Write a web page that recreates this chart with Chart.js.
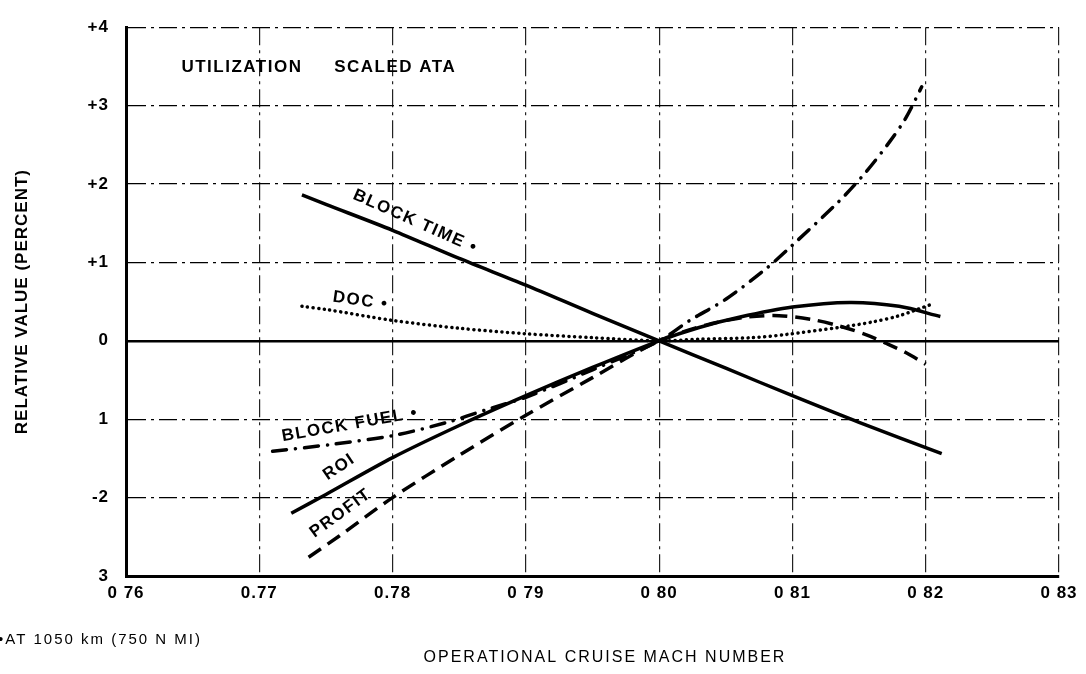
<!DOCTYPE html>
<html>
<head>
<meta charset="utf-8">
<title>Relative value vs operational cruise Mach number</title>
<script src="https://cdn.jsdelivr.net/npm/chart.js@4.4.1/dist/chart.umd.min.js"></script>
<style>
  html, body { margin: 0; padding: 0; background: #fff; }
  #wrap { width: 1086px; height: 674px; position: relative; }
</style>
</head>
<body>
<div id="wrap"><canvas id="machChart"></canvas></div>
<script>
// Tick values and the labels as printed on the figure
const xTickValues = [0.76, 0.77, 0.78, 0.79, 0.80, 0.81, 0.82, 0.83];
const xTickLabels = ['0 76', '0.77', '0.78', '0 79', '0 80', '0 81', '0 82', '0 83'];
const yTickValues = [-3, -2, -1, 0, 1, 2, 3, 4];
const yTickLabels = ['3', '-2', '1', '0', '+1', '+2', '+3', '+4'];

// Curves: Mach number -> relative value (percent)
const blockTimeMach  = [0.7732, 0.775, 0.78, 0.785, 0.79, 0.795, 0.80, 0.805, 0.81, 0.815, 0.8212];
const blockTimeValue = [1.86, 1.74, 1.41, 1.05, 0.71, 0.35, 0, -0.35, -0.70, -1.04, -1.44];

const docMach  = [0.7732, 0.775, 0.78, 0.785, 0.79, 0.795, 0.80, 0.803, 0.807, 0.8095, 0.8135, 0.816, 0.818, 0.8205];
const docValue = [0.44, 0.40, 0.26, 0.16, 0.09, 0.04, 0, 0.02, 0.04, 0.08, 0.17, 0.24, 0.32, 0.47];

const blockFuelMach  = [0.7710, 0.7755, 0.78, 0.7841, 0.787, 0.79, 0.795, 0.80, 0.8023, 0.805, 0.8081, 0.81, 0.8135, 0.8155, 0.8173, 0.8185, 0.8197];
const blockFuelValue = [-1.41, -1.32, -1.21, -1.04, -0.88, -0.72, -0.37, 0, 0.26, 0.53, 0.93, 1.22, 1.78, 2.15, 2.54, 2.84, 3.24];

const roiMach  = [0.7724, 0.775, 0.78, 0.785, 0.79, 0.795, 0.80, 0.803, 0.806, 0.81, 0.8143, 0.818, 0.8211];
const roiValue = [-2.20, -1.96, -1.49, -1.08, -0.70, -0.34, 0, 0.17, 0.30, 0.43, 0.49, 0.44, 0.31];

const profitMach  = [0.7737, 0.776, 0.78, 0.785, 0.79, 0.795, 0.80, 0.8035, 0.8065, 0.809, 0.8115, 0.8135, 0.8155, 0.817, 0.8185, 0.82];
const profitValue = [-2.76, -2.49, -2.00, -1.46, -0.95, -0.47, 0, 0.20, 0.30, 0.32, 0.27, 0.19, 0.08, -0.03, -0.15, -0.30];

// Text written inside the plot, anchored in data units
const plotNotes = [
    { text: 'UTILIZATION', mach: 0.7687, value: 3.49, angle: 0 },
    { text: 'SCALED ATA', mach: 0.7802, value: 3.49, angle: 0 },
    { text: 'BLOCK TIME •', mach: 0.7817, value: 1.52, angle: 24 },
    { text: 'DOC •', mach: 0.7776, value: 0.51, angle: 8 },
    { text: 'BLOCK FUEL •', mach: 0.7768, value: -1.07, angle: -10 },
    { text: 'ROI', mach: 0.7760, value: -1.61, angle: -34 },
    { text: 'PROFIT', mach: 0.7761, value: -2.20, angle: -36 }
];
const footnote = '•AT 1050 km (750 N MI)';
const xTitle = 'OPERATIONAL CRUISE MACH NUMBER';
const yTitle = 'RELATIVE VALUE (PERCENT)';

function toPoints(xs, ys) {
    return xs.map((x, i) => ({ x, y: ys[i] }));
}

function curve(label, xs, ys, dash, cap) {
    return {
        label,
        data: toPoints(xs, ys),
        borderColor: '#000',
        borderWidth: 3.5,
        borderDash: dash,
        borderCapStyle: cap || 'butt',
        pointRadius: 0,
        fill: false,
        tension: 0.3
    };
}

const gridDash = [18, 5, 3, 5];

// Draws the in-plot notes, the footnote and the x title
const figureText = {
    id: 'figureText',
    beforeDraw(chart) {
        chart.ctx.letterSpacing = '1px';
    },
    afterDraw(chart) {
        const { ctx, chartArea } = chart;
        const xs = chart.scales.x;
        const ys = chart.scales.y;
        ctx.save();
        ctx.fillStyle = '#000';
        ctx.textBaseline = 'middle';
        ctx.textAlign = 'center';
        ctx.letterSpacing = '1.5px';
        ctx.font = 'bold 17px "Liberation Sans", Arial, sans-serif';
        plotNotes.forEach(note => {
            ctx.save();
            ctx.translate(xs.getPixelForValue(note.mach), ys.getPixelForValue(note.value));
            ctx.rotate(note.angle * Math.PI / 180);
            ctx.fillText(note.text, 0, 0);
            ctx.restore();
        });

        ctx.letterSpacing = '2px';
        ctx.font = '15px "Liberation Sans", Arial, sans-serif';
        ctx.textAlign = 'left';
        ctx.fillText(footnote, -2, chartArea.bottom + 64);

        ctx.font = '16px "Liberation Sans", Arial, sans-serif';
        ctx.textAlign = 'center';
        ctx.fillText(xTitle, chartArea.left + 479, chartArea.bottom + 82);
        ctx.restore();
    }
};

const ctx = document.getElementById('machChart').getContext('2d');
const machChart = new Chart(ctx, {
    type: 'line',
    data: {
        datasets: [
            curve('BLOCK TIME', blockTimeMach, blockTimeValue, []),
            curve('DOC', docMach, docValue, [0.1, 5.5], 'round'),
            curve('BLOCK FUEL', blockFuelMach, blockFuelValue, [14, 9, 0.1, 9], 'round'),
            curve('ROI', roiMach, roiValue, []),
            curve('PROFIT', profitMach, profitValue, [15, 8])
        ]
    },
    options: {
        responsive: true,
        maintainAspectRatio: false,
        animation: false,
        layout: {
            padding: { top: 15, right: 27, bottom: 0, left: 0 }
        },
        plugins: {
            legend: { display: false },
            tooltip: { enabled: false }
        },
        scales: {
            x: {
                type: 'linear',
                min: 0.76,
                max: 0.83,
                afterBuildTicks: scale => {
                    scale.ticks = xTickValues.map(v => ({ value: v }));
                },
                afterFit: scale => {
                    scale.height = 98;
                },
                ticks: {
                    color: '#000',
                    padding: 7,
                    maxRotation: 0,
                    font: { family: '"Liberation Sans", Arial, sans-serif', size: 17, weight: 'bold' },
                    callback: (value, index) => xTickLabels[index]
                },
                grid: {
                    color: '#222',
                    lineWidth: 1.2,
                    drawTicks: false
                },
                border: {
                    display: true,
                    color: '#000',
                    width: 3,
                    dash: gridDash
                },
                title: { display: false }
            },
            y: {
                type: 'linear',
                min: -3,
                max: 4,
                afterBuildTicks: scale => {
                    scale.ticks = yTickValues.map(v => ({ value: v }));
                },
                afterFit: scale => {
                    scale.width = 126;
                },
                ticks: {
                    color: '#000',
                    padding: 17,
                    font: { family: '"Liberation Sans", Arial, sans-serif', size: 17, weight: 'bold' },
                    callback: (value, index) => yTickLabels[index]
                },
                grid: {
                    color: '#000',
                    lineWidth: c => (c.tick && c.tick.value === 0 ? 2.5 : 1.2),
                    drawTicks: false
                },
                border: {
                    display: true,
                    color: '#000',
                    width: 3,
                    dash: c => (c.tick && c.tick.value === 0 ? [] : gridDash)
                },
                title: {
                    display: true,
                    text: yTitle,
                    color: '#000',
                    padding: { top: 12, bottom: 0 },
                    font: { family: '"Liberation Sans", Arial, sans-serif', size: 17, weight: 'bold' }
                }
            }
        }
    },
    plugins: [figureText]
});
</script>
</body>
</html>
